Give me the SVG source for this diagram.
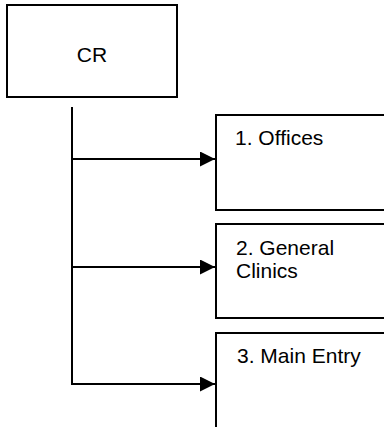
<svg xmlns="http://www.w3.org/2000/svg" width="384" height="427" viewBox="0 0 384 427">
<style>
.box{fill:#fff;stroke:#000;stroke-width:2}
.t{font-family:"Liberation Sans",Arial,sans-serif;font-size:21px;fill:#000}
.c{stroke:#000;stroke-width:2;fill:none}
</style>
<defs>
<marker id="ah" markerWidth="15" markerHeight="15" refX="15" refY="7.5" orient="auto" markerUnits="userSpaceOnUse">
<path d="M0,0 L15,7.5 L0,15 Z" fill="#000"/>
</marker>
</defs>
<rect width="384" height="427" fill="#fff"/>
<g id="cr">
<rect class="box" x="7" y="5" width="170" height="92"/>
<text class="t" x="92" y="62" text-anchor="middle">CR</text>
</g>
<g id="offices">
<rect class="box" x="216" y="115" width="180" height="95"/>
<text class="t" x="235" y="145">1. Offices</text>
</g>
<g id="clinics">
<rect class="box" x="216" y="224" width="180" height="94"/>
<text class="t" x="236" y="255">2. General</text>
<text class="t" x="236" y="278">Clinics</text>
</g>
<g id="entry">
<rect class="box" x="216" y="333" width="180" height="110"/>
<text class="t" x="237" y="363">3. Main Entry</text>
</g>
<g id="connectors">
<line class="c" x1="72" y1="107" x2="72" y2="385"/>
<line class="c" x1="72" y1="159" x2="215" y2="159" marker-end="url(#ah)"/>
<line class="c" x1="72" y1="267" x2="215" y2="267" marker-end="url(#ah)"/>
<line class="c" x1="71" y1="384" x2="215" y2="384" marker-end="url(#ah)"/>
</g>
</svg>
